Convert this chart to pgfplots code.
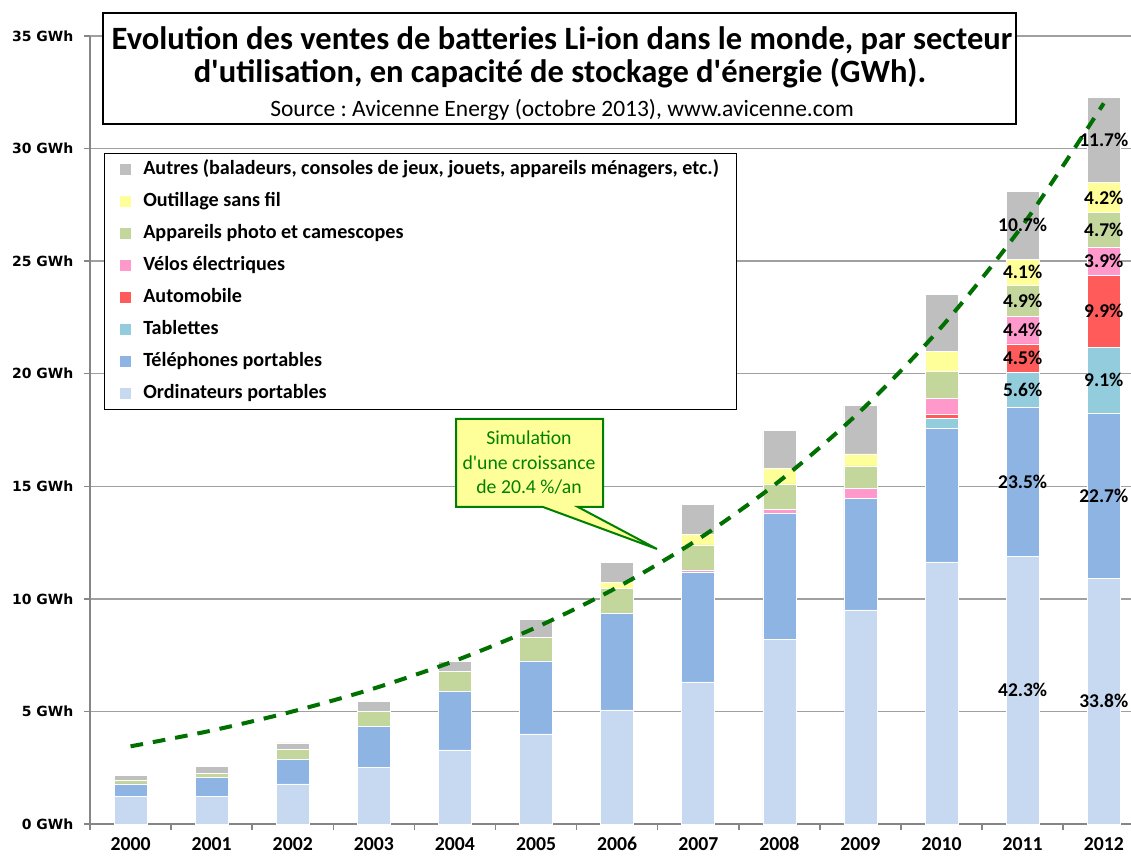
\documentclass[border=0pt]{standalone}
\usepackage{pgfplots}
\pgfplotsset{compat=1.18}
\usepackage{pgfplotstable}
\usepackage{fontspec}
\setmainfont{Carlito}
\newfontfamily\verd{DejaVu Sans}
\frenchspacing
\definecolor{cOrdi}{RGB}{198,217,240}
\definecolor{cTel}{RGB}{142,180,227}
\definecolor{cTab}{RGB}{147,205,221}
\definecolor{cAuto}{RGB}{255,91,91}
\definecolor{cVelo}{RGB}{255,153,204}
\definecolor{cPhoto}{RGB}{195,214,155}
\definecolor{cOutil}{RGB}{255,255,153}
\definecolor{cAutres}{RGB}{191,191,191}
\definecolor{simgreen}{RGB}{0,112,0}
\definecolor{callfill}{RGB}{255,255,153}
\definecolor{callgreen}{RGB}{0,128,0}
\definecolor{axgray}{RGB}{134,134,134}
\definecolor{gridgray}{RGB}{160,160,160}

\pgfplotstableread{
x ordi tel tab auto velo photo outil autres
0 1.24 0.54 0 0 0 0.18 0 0.19
1 1.24 0.82 0 0 0 0.19 0 0.30
2 1.78 1.08 0 0 0 0.44 0 0.30
3 2.50 1.83 0 0 0 0.67 0 0.44
4 3.29 2.61 0 0 0 0.88 0 0.46
5 4.00 3.24 0 0 0 1.06 0 0.78
6 5.07 4.29 0 0 0 1.10 0.27 0.90
7 6.31 4.89 0 0 0.09 1.11 0.46 1.34
8 8.20 5.59 0 0 0.18 1.14 0.67 1.70
9 9.51 4.96 0 0 0.43 1.01 0.53 2.14
10 11.64 5.93 0.43 0.19 0.70 1.20 0.89 2.53
11 11.89 6.60 1.57 1.26 1.24 1.38 1.15 3.01
12 10.91 7.33 2.94 3.19 1.26 1.52 1.36 3.78
}\data

\pgfplotsset{
  sq/.style={legend image code/.code={\path (0pt,0pt) -- (15.5pt,0pt); \fill[##1,draw=none] (0pt,-4.1pt) rectangle (8.25pt,4.1pt);}},
  common/.style={
    at={(67.5pt,24.75pt)}, anchor=south west,
    scale only axis, width=780.75pt, height=591pt,
    xmin=-0.5, xmax=12.336, ymin=0, ymax=35,
  },
}

\begin{document}
\begin{tikzpicture}
\path[use as bounding box] (0,0) rectangle (848.25pt,642.75pt);
\begin{axis}[common,
  ybar stacked, bar width=24.75pt,
  axis x line*=bottom, axis y line*=left,
  axis line style={draw=axgray, line width=1.5pt},
  ytick={0,5,...,35},
  yticklabels={0 GWh,5 GWh,10 GWh,15 GWh,20 GWh,25 GWh,30 GWh,35 GWh},
  yticklabel style={font=\verd\bfseries\fontsize{10.5}{12}\selectfont, xshift=-4.5pt},
  xtick={0,...,12},
  xticklabels={2000,2001,2002,2003,2004,2005,2006,2007,2008,2009,2010,2011,2012},
  xticklabel style={font=\fontsize{14.8}{17}\selectfont\bfseries, anchor=base, inner sep=0.5pt, yshift=-15.5pt},
  minor xtick={-0.5,0.5,...,11.5},
  major x tick style={draw=none},
  minor x tick style={draw=axgray, line width=1.1pt},
  ytick style={draw=axgray, line width=1.1pt},
  tick align=outside,
  major tick length=4.5pt, minor tick length=4.5pt,
  ymajorgrids, grid style={draw=gridgray, line width=1.1pt},
  legend style={
    at={(0.01345,0.8515)}, anchor=north west,
    draw=black, line width=1.1pt, fill=white,
    font=\fontsize{15.1}{18}\selectfont\bfseries,
    inner xsep=11pt, inner ysep=3pt,
    row sep=6pt,
    nodes={text height=10.5pt, text depth=3.5pt, inner ysep=2pt, inner xsep=2pt},
  },
  legend cell align=left,
  reverse legend,
]
\addplot[sq, fill=cOrdi, draw=white, line width=0.4pt] table[x=x,y=ordi]{\data};
\addlegendentry{Ordinateurs portables}
\addplot[sq, fill=cTel, draw=white, line width=0.4pt] table[x=x,y=tel]{\data};
\addlegendentry{Téléphones portables}
\addplot[sq, fill=cTab, draw=white, line width=0.4pt] table[x=x,y=tab]{\data};
\addlegendentry{Tablettes}
\addplot[sq, fill=cAuto, draw=white, line width=0.4pt] table[x=x,y=auto]{\data};
\addlegendentry{Automobile}
\addplot[sq, fill=cVelo, draw=white, line width=0.4pt] table[x=x,y=velo]{\data};
\addlegendentry{Vélos électriques}
\addplot[sq, fill=cPhoto, draw=white, line width=0.4pt] table[x=x,y=photo]{\data};
\addlegendentry{Appareils photo et camescopes}
\addplot[sq, fill=cOutil, draw=white, line width=0.4pt] table[x=x,y=outil]{\data};
\addlegendentry{Outillage sans fil}
\addplot[sq, fill=cAutres, draw=white, line width=0.4pt] table[x=x,y=autres]{\data};
\addlegendentry{Autres (baladeurs, consoles de jeux, jouets, appareils ménagers, etc.)}
\end{axis}

\begin{axis}[common, hide axis, clip=false]
\addplot[simgreen, line width=3pt, dash pattern=on 9.5pt off 7.5pt, smooth] coordinates {
(0,3.45) (1,4.15) (2,5.00) (3,6.02) (4,7.25) (5,8.73) (6,10.51) (7,12.65) (8,15.23) (9,18.34) (10,22.08) (11,26.59) (12,32.01)};
\addplot[only marks, mark=*, mark size=0pt, mark options={draw=none,fill=none},
  nodes near coords, point meta=explicit symbolic,
  every node near coord/.append style={anchor=center, font=\fontsize{14.6}{17}\selectfont\bfseries, text=black}]
coordinates {
(11,5.945)[42.3\%] (11,15.19)[23.5\%] (11,19.275)[5.6\%] (11,20.69)[4.5\%]
(11,21.94)[4.4\%] (11,23.25)[4.9\%] (11,24.515)[4.1\%] (11,26.595)[10.7\%]
(12,5.455)[33.8\%] (12,14.575)[22.7\%] (12,19.71)[9.1\%] (12,22.775)[9.9\%]
(12,25.0)[3.9\%] (12,26.39)[4.7\%] (12,27.83)[4.2\%] (12,30.4)[11.7\%]};
\end{axis}

\begin{scope}[shift={(0pt,642.75pt)}, x=0.75pt, y=-0.75pt]
\draw[fill=white, draw=black, line width=1.1pt] (103,13) rectangle (1016,124);
\node[anchor=base, font=\fontsize{24.4}{29}\selectfont\bfseries, inner sep=0pt] at (562,50) {Evolution des ventes de batteries Li-ion dans le monde, par secteur};
\node[anchor=base, font=\fontsize{24.4}{29}\selectfont\bfseries, inner sep=0pt] at (560,83) {d\textquotesingle utilisation, en capacité de stockage d\textquotesingle énergie (GWh).};
\node[anchor=base, font=\fontsize{17.6}{21}\selectfont, inner sep=0pt] at (562,117) {Source : Avicenne Energy (octobre 2013), www.avicenne.com};
\draw[fill=callfill, draw=callgreen, line width=1.5pt, line join=miter] (456,419) -- (603,419) -- (603,507) -- (578,507) -- (657,549) -- (543,507) -- (456,507) -- cycle;
\node[align=center, text=callgreen, font=\fontsize{14.8}{18.4}\selectfont, inner sep=0pt] at (529,463) {Simulation\\d\textquotesingle une croissance\\de 20.4 \%/an};
\end{scope}
\end{tikzpicture}
\end{document}
